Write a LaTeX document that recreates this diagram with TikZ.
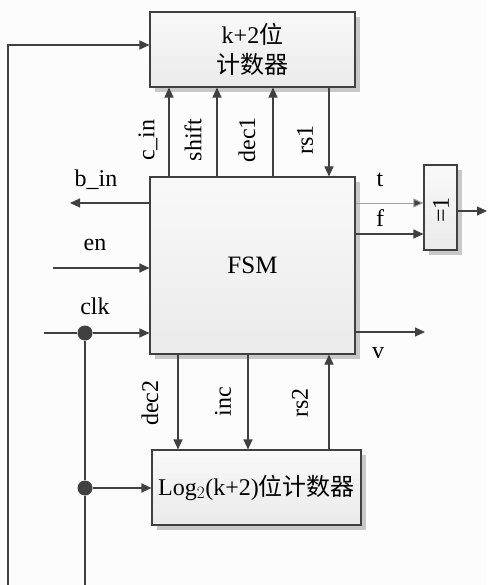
\documentclass[tikz,border=0pt]{standalone}
\usepackage{fontspec}
\setmainfont{Liberation Serif}
\newfontfamily\cjk{Noto Sans CJK SC}
\usetikzlibrary{arrows.meta,shadows}
\definecolor{ln}{HTML}{404040}
\definecolor{lt}{HTML}{A0A0A0}
\definecolor{sh}{HTML}{C8C8C8}
\tikzset{
  blk/.style={draw=ln, line width=1.1pt, top color=white!95!gray, bottom color=black!8,
    drop shadow={shadow xshift=5pt, shadow yshift=-5pt, fill=sh, opacity=1},
    inner sep=0pt, align=center},
  arr/.style={draw=ln, line width=1.1pt, -{Triangle[length=10pt,width=9pt]}},
  wire/.style={draw=ln, line width=1.1pt},
  lbl/.style={font=\fontsize{24}{26}\selectfont, inner sep=0pt},
  rlbl/.style={lbl, rotate=90},
  dot/.style={circle, fill=ln, inner sep=0pt, minimum size=15pt}
}
\begin{document}
\begin{tikzpicture}[x=1pt,y=-1pt]
\useasboundingbox (0,0) rectangle (487,585);
\fill[white!98!gray] (0,0) rectangle (487,585);
% blocks
\node[blk, minimum width=205pt, minimum height=75pt, font=\fontsize{24}{30}\selectfont] (top) at (252.5,49.5) {k+2{\cjk 位}\\{\cjk 计数器}};
\node[blk, minimum width=205pt, minimum height=177pt, font=\fontsize{25}{27}\selectfont] (fsm) at (252.5,265.5) {FSM};
\node[blk, minimum width=33pt, minimum height=85pt] (gate) at (440.5,207.5) {};
\node[lbl, rotate=90] (gtxt) at (441,210) {=1};
\node[blk, minimum width=209pt, minimum height=75pt, font=\fontsize{24}{26}\selectfont] (log) at (256.5,487.5) {Log$_{\fontsize{14}{14}\selectfont 2}$(k+2){\cjk 位计数器}};
% x positions
\coordinate (xa) at (169,0);
\coordinate (xb) at (217,0);
\coordinate (xc) at (273,0);
\coordinate (xd) at (329,0);
\coordinate (xe) at (178,0);
\coordinate (xf) at (248,0);
\coordinate (yfb) at (0,45);
\coordinate (yt) at (0,203);
\coordinate (yf) at (0,234);
\coordinate (yen) at (0,268);
\coordinate (yclk) at (0,333);
\coordinate (ylog) at (0,488);
% top connections
\draw[arr] (fsm.north -| xa) -- (top.south -| xa);
\draw[arr] (fsm.north -| xb) -- (top.south -| xb);
\draw[arr] (fsm.north -| xc) -- (top.south -| xc);
\draw[arr] (top.south -| xd) -- (fsm.north -| xd);
\node[rlbl] (lcin) at (148,140) {c\_in};
\node[rlbl] (lshift) at (193,140) {shift};
\node[rlbl] (ldec1) at (247,140) {dec1};
\node[rlbl] (lrs1) at (305,140) {rs1};
% bottom connections
\draw[arr] (fsm.south -| xe) -- (log.north -| xe);
\draw[arr] (fsm.south -| xf) -- (log.north -| xf);
\draw[arr] (log.north -| xd) -- (fsm.south -| xd);
\node[rlbl] (ldec2) at (150,403) {dec2};
\node[rlbl] (linc) at (223,402) {inc};
\node[rlbl] (lrs2) at (300,403) {rs2};
% left side
\coordinate (bend) at (70,203);
\draw[arr] (fsm.west |- yt) -- (bend);
\node[lbl] (lbin) at (96,180) {b\_in};
\coordinate (enS) at (53,268);
\draw[arr] (enS) -- (fsm.west |- yen);
\node[lbl] (len) at (95,245) {en};
\coordinate (clkS) at (44,333);
\node[dot] (d1) at (85,333) {};
\node[dot] (d2) at (85,488) {};
\coordinate (bot) at (85,585);
\draw[wire] (clkS) -- (d1);
\draw[arr] (d1) -- (fsm.west |- yclk);
\draw[wire] (d1) -- (d2) -- (bot);
\draw[arr] (d2) -- (log.west |- ylog);
\node[lbl] (lclk) at (95,306) {clk};
% feedback
\coordinate (fb0) at (8,585);
\coordinate (fb1) at (8,45);
\draw[arr] (fb0) -- (fb1) -- (top.west |- yfb);
% right side
\draw[draw=lt, line width=1pt, -{Triangle[length=10pt,width=9pt,fill=ln]}, color=lt] (fsm.east |- yt) -- (gate.west |- yt);
\draw[arr] (fsm.east |- yf) -- (gate.west |- yf);
\node[lbl] (lt) at (380,180) {t};
\node[lbl] (lf) at (380,218) {f};
\coordinate (vE) at (425,332);
\draw[arr] (fsm.east |- vE) -- (vE);
\node[lbl] (lv) at (378,353) {v};
\coordinate (outE) at (487,211);
\draw[arr] (gate.east |- outE) -- (outE);
\end{tikzpicture}
\end{document}
